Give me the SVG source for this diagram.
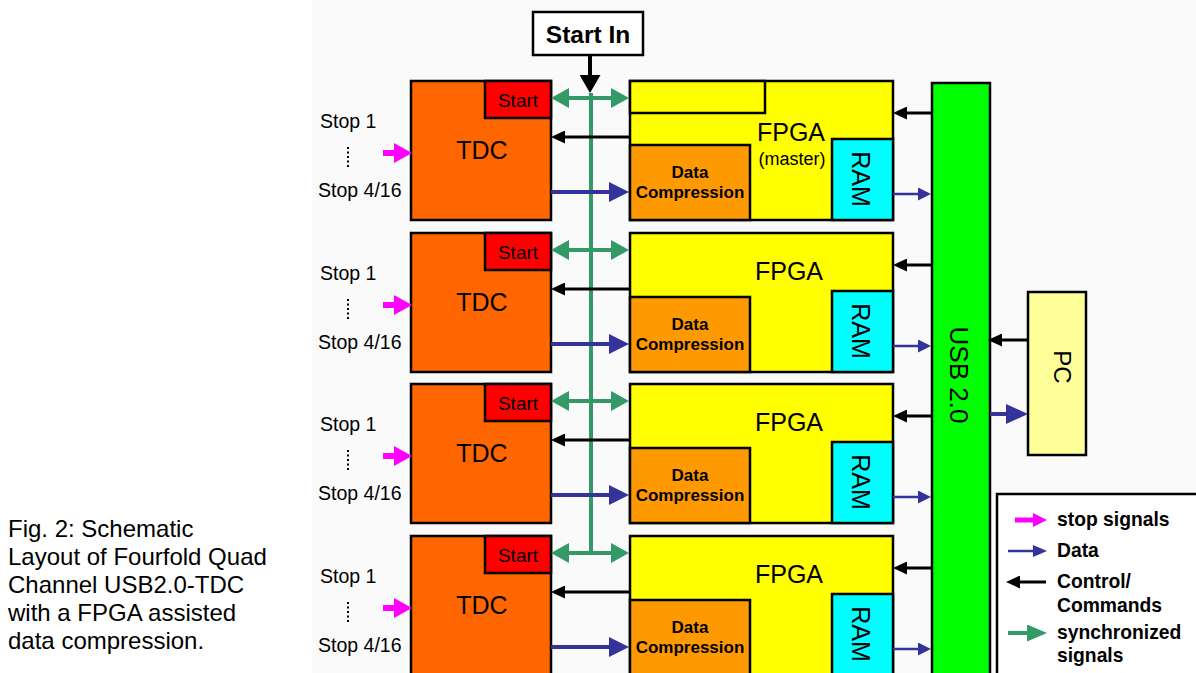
<svg xmlns="http://www.w3.org/2000/svg" width="1196" height="673" viewBox="0 0 1196 673">
<style>
text{font-family:"Liberation Sans",Arial,sans-serif;fill:#000}
.box{stroke:#000;stroke-width:2.5}
.tdc{fill:#ff6600}.start{fill:#ff0000}.fpga{fill:#ffff00}.dc{fill:#ff9900}.ram{fill:#00ffff}.usb{fill:#00ff00}.pc{fill:#ffff99}.white{fill:#fff}
.big{font-size:25px;text-anchor:middle}
.mid{font-size:19.5px}
.st{font-size:19px;text-anchor:middle}
.ms{font-size:18px;text-anchor:middle}
.dct{font-size:17px;font-weight:bold;text-anchor:middle}
.leg{font-size:19.3px;font-weight:bold}
.cap{font-size:24px}
.blk{stroke:#000;stroke-width:3;fill:none}
.blu{stroke:#333399;fill:none}
.grn{stroke:#339966;stroke-width:4;fill:none}
.mag{stroke:#ff00ff;fill:none}
</style>
<defs>
<marker id="hBlack" markerUnits="userSpaceOnUse" markerWidth="14" markerHeight="13" refX="0" refY="6.5" orient="auto"><path d="M0,0 L14,6.5 L0,13 Z" fill="#000"/></marker>
<marker id="hBlackBig" markerUnits="userSpaceOnUse" markerWidth="18" markerHeight="21" refX="0" refY="10.5" orient="auto"><path d="M0,0 L18,10.5 L0,21 Z" fill="#000"/></marker>
<marker id="hBlue" markerUnits="userSpaceOnUse" markerWidth="20" markerHeight="20" refX="0" refY="10" orient="auto"><path d="M0,0 L20,10 L0,20 Z" fill="#333399"/></marker>
<marker id="hBlueS" markerUnits="userSpaceOnUse" markerWidth="13" markerHeight="13" refX="0" refY="6.5" orient="auto"><path d="M0,0 L13,6.5 L0,13 Z" fill="#333399"/></marker>
<marker id="hGreen" markerUnits="userSpaceOnUse" markerWidth="18" markerHeight="20" refX="0" refY="10" orient="auto-start-reverse"><path d="M0,0 L18,10 L0,20 Z" fill="#339966"/></marker>
<marker id="hMag" markerUnits="userSpaceOnUse" markerWidth="18" markerHeight="20" refX="0" refY="10" orient="auto"><path d="M0,0 L18,10 L0,20 Z" fill="#ff00ff"/></marker>
<marker id="hMagS" markerUnits="userSpaceOnUse" markerWidth="14" markerHeight="14" refX="0" refY="7" orient="auto"><path d="M0,0 L14,7 L0,14 Z" fill="#ff00ff"/></marker>
<marker id="hGreenL" markerUnits="userSpaceOnUse" markerWidth="20" markerHeight="17" refX="0" refY="8.5" orient="auto"><path d="M0,0 L20,8.5 L0,17 Z" fill="#339966"/></marker>
<marker id="hBlueL" markerUnits="userSpaceOnUse" markerWidth="14" markerHeight="12" refX="0" refY="6" orient="auto"><path d="M0,0 L14,6 L0,12 Z" fill="#333399"/></marker>
<marker id="hBlueP" markerUnits="userSpaceOnUse" markerWidth="22" markerHeight="20" refX="0" refY="10" orient="auto"><path d="M0,0 L22,10 L0,20 Z" fill="#333399"/></marker>
<g id="rowConn">
<line class="mag" x1="383" y1="153" x2="394" y2="153" stroke-width="6" marker-end="url(#hMag)"/>
<line class="blk" x1="630" y1="137" x2="565" y2="137" marker-end="url(#hBlack)"/>
<line class="blu" x1="551" y1="192" x2="609" y2="192" stroke-width="4" marker-end="url(#hBlue)"/>
<line class="grn" x1="569" y1="98" x2="611" y2="98" marker-start="url(#hGreen)" marker-end="url(#hGreen)"/>
<line class="blk" x1="932" y1="113" x2="907" y2="113" marker-end="url(#hBlack)"/>
<line class="blu" x1="893" y1="194" x2="918" y2="194" stroke-width="2.5" marker-end="url(#hBlueS)"/>
<line x1="348" y1="147" x2="348" y2="167" stroke="#000" stroke-width="2" stroke-dasharray="2 2.5"/>
</g>
</defs>
<rect x="312" y="0" width="884" height="673" fill="#fafafa"/>

<g id="caption">
<text class="cap" x="8" y="537">Fig. 2: Schematic</text>
<text class="cap" x="8" y="565">Layout of Fourfold Quad</text>
<text class="cap" x="8" y="593">Channel USB2.0-TDC</text>
<text class="cap" x="8" y="621">with a FPGA assisted</text>
<text class="cap" x="8" y="649">data compression.</text>
</g>

<g id="start-in">
<rect class="box white" x="533" y="12" width="110" height="43"/>
<text x="588" y="43" font-size="24.5" font-weight="bold" text-anchor="middle">Start In</text>
</g>

<g id="row1">
<g id="stops-1"><text class="mid" x="320" y="128">Stop 1</text><text class="mid" x="318" y="197">Stop 4/16</text></g>
<g id="tdc-1"><rect class="box tdc" x="411" y="81" width="140" height="139"/><rect class="box start" x="485" y="81" width="66" height="37"/><text class="big" x="482" y="159">TDC</text><text class="st" x="518" y="107">Start</text></g>
<g id="fpga-1"><rect class="box fpga" x="630" y="81" width="263" height="139"/><rect class="box fpga" x="630" y="81" width="135" height="32"/><text class="big" x="791" y="141">FPGA</text><text class="ms" x="792" y="165">(master)</text>
<rect class="box dc" x="630" y="145" width="120" height="75"/><text class="dct" x="690" y="178">Data</text><text class="dct" x="690" y="198">Compression</text>
<rect class="box ram" x="832" y="139" width="61" height="81"/><text class="big" transform="translate(852,179) rotate(90)" x="0" y="0">RAM</text></g>
</g>

<g id="row2" transform="translate(0,152)">
<g id="stops-2"><text class="mid" x="320" y="128">Stop 1</text><text class="mid" x="318" y="197">Stop 4/16</text></g>
<g id="tdc-2"><rect class="box tdc" x="411" y="81" width="140" height="139"/><rect class="box start" x="485" y="81" width="66" height="37"/><text class="big" x="482" y="159">TDC</text><text class="st" x="518" y="107">Start</text></g>
<g id="fpga-2"><rect class="box fpga" x="630" y="81" width="263" height="139"/><text class="big" x="789" y="128">FPGA</text>
<rect class="box dc" x="630" y="145" width="120" height="75"/><text class="dct" x="690" y="178">Data</text><text class="dct" x="690" y="198">Compression</text>
<rect class="box ram" x="832" y="139" width="61" height="81"/><text class="big" transform="translate(852,179) rotate(90)" x="0" y="0">RAM</text></g>
</g>

<g id="row3" transform="translate(0,303)">
<g id="stops-3"><text class="mid" x="320" y="128">Stop 1</text><text class="mid" x="318" y="197">Stop 4/16</text></g>
<g id="tdc-3"><rect class="box tdc" x="411" y="81" width="140" height="139"/><rect class="box start" x="485" y="81" width="66" height="37"/><text class="big" x="482" y="159">TDC</text><text class="st" x="518" y="107">Start</text></g>
<g id="fpga-3"><rect class="box fpga" x="630" y="81" width="263" height="139"/><text class="big" x="789" y="128">FPGA</text>
<rect class="box dc" x="630" y="145" width="120" height="75"/><text class="dct" x="690" y="178">Data</text><text class="dct" x="690" y="198">Compression</text>
<rect class="box ram" x="832" y="139" width="61" height="81"/><text class="big" transform="translate(852,179) rotate(90)" x="0" y="0">RAM</text></g>
</g>

<g id="row4" transform="translate(0,455)">
<g id="stops-4"><text class="mid" x="320" y="128">Stop 1</text><text class="mid" x="318" y="197">Stop 4/16</text></g>
<g id="tdc-4"><rect class="box tdc" x="411" y="81" width="140" height="139"/><rect class="box start" x="485" y="81" width="66" height="37"/><text class="big" x="482" y="159">TDC</text><text class="st" x="518" y="107">Start</text></g>
<g id="fpga-4"><rect class="box fpga" x="630" y="81" width="263" height="139"/><text class="big" x="789" y="128">FPGA</text>
<rect class="box dc" x="630" y="145" width="120" height="75"/><text class="dct" x="690" y="178">Data</text><text class="dct" x="690" y="198">Compression</text>
<rect class="box ram" x="832" y="139" width="61" height="81"/><text class="big" transform="translate(852,179) rotate(90)" x="0" y="0">RAM</text></g>
</g>

<g id="usb"><rect class="box usb" x="932" y="83" width="58" height="610"/><text transform="translate(950,375) rotate(90)" font-size="26" text-anchor="middle">USB 2.0</text></g>
<g id="pc"><rect class="box pc" x="1028" y="292" width="58" height="163"/><text transform="translate(1054,367) rotate(90)" font-size="24" text-anchor="middle">PC</text></g>

<g id="connectors">
<line class="grn" x1="591" y1="93" x2="591" y2="555"/>
<line stroke="#000" stroke-width="4" x1="590" y1="55" x2="590" y2="75" marker-end="url(#hBlackBig)"/>
<use href="#rowConn"/>
<use href="#rowConn" transform="translate(0,152)"/>
<use href="#rowConn" transform="translate(0,303)"/>
<use href="#rowConn" transform="translate(0,455)"/>
<line class="blk" x1="1028" y1="340" x2="1002" y2="340" marker-end="url(#hBlack)"/>
<line class="blu" x1="990" y1="414" x2="1006" y2="414" stroke-width="4" marker-end="url(#hBlueP)"/>
</g>

<g id="legend">
<rect class="box white" x="997" y="494" width="220" height="200"/>
<line class="mag" x1="1015" y1="520" x2="1033" y2="520" stroke-width="5" marker-end="url(#hMagS)"/>
<text class="leg" x="1057" y="526">stop signals</text>
<line class="blu" x1="1008" y1="551" x2="1033" y2="551" stroke-width="2.5" marker-end="url(#hBlueL)"/>
<text class="leg" x="1057" y="557">Data</text>
<line class="blk" x1="1046" y1="582" x2="1020" y2="582" marker-end="url(#hBlack)"/>
<text class="leg" x="1057" y="588">Control/</text>
<text class="leg" x="1057" y="612">Commands</text>
<line class="grn" x1="1008" y1="633" x2="1027" y2="633" marker-end="url(#hGreenL)"/>
<text class="leg" x="1057" y="639">synchronized</text>
<text class="leg" x="1057" y="662">signals</text>
</g>
</svg>
